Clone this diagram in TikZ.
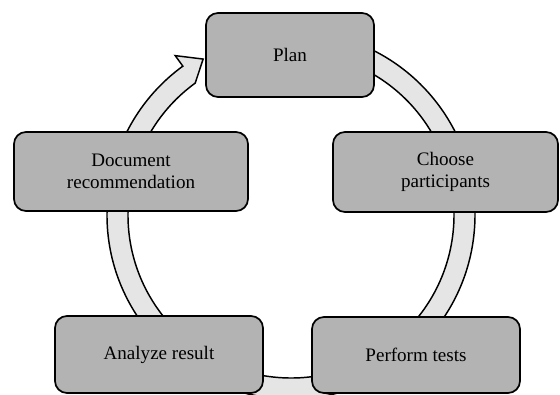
\documentclass[tikz,border=0pt]{standalone}
\usepackage{fontspec}
\setmainfont{Liberation Serif}
\usetikzlibrary{calc}
\definecolor{boxgray}{RGB}{179,179,179}
\definecolor{ringgray}{RGB}{229,229,229}
\begin{document}
\begin{tikzpicture}[x=0.75pt,y=-0.75pt,
  stagebox/.style={draw=black, line width=1.3pt, fill=boxgray, rounded corners=9pt,
    align=center, inner sep=0pt, font=\fontsize{14.3}{16.5}\selectfont},
  ringstyle/.style={draw=black, line width=1.1pt, fill=ringgray, line join=miter}]
\useasboundingbox (0,0) rectangle (560,395);
\coordinate (c) at (291,215);
% ring with arrowhead
\path[ringstyle]
  ($(c)+(85:122.25pt)$) -- ($(c)+(85:138pt)$)
  arc[start angle=85, end angle=-234, radius=138pt]
  -- ($(c)+(126:147.75pt)$)
  -- ($(c)+(119.4:134.25pt)$)
  -- ($(c)+(126:122.25pt)$)
  arc[start angle=-234, end angle=85, radius=122.25pt] -- cycle;
% boxes
\node[stagebox, minimum width=126pt, minimum height=63pt] (plan) at (290,55) {Plan};
\node[stagebox, minimum width=175.5pt, minimum height=59.25pt] (doc) at (131,171.5) {Document\\recommendation};
\node[stagebox, minimum width=168.75pt, minimum height=60pt] (choose) at (445.5,172) {Choose\\participants};
\node[stagebox, minimum width=156pt, minimum height=57.75pt] (analyze) at (159,354.5) {Analyze result};
\node[stagebox, minimum width=156pt, minimum height=57pt] (perform) at (416,355) {Perform tests};
\end{tikzpicture}
\end{document}
